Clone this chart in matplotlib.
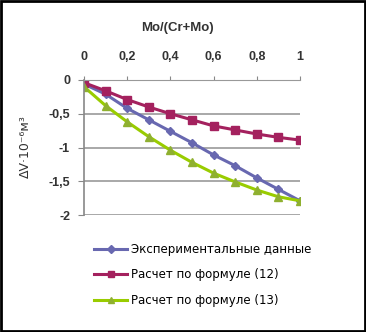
import matplotlib
matplotlib.use("Agg")
import matplotlib.pyplot as plt
from matplotlib.patches import Rectangle

plt.rcParams['font.family'] = ['Liberation Sans', 'DejaVu Sans']

x = [0, 0.1, 0.2, 0.3, 0.4, 0.5, 0.6, 0.7, 0.8, 0.9, 1.0]
exp_data = [-0.06, -0.21, -0.42, -0.59, -0.76, -0.93, -1.11, -1.27, -1.45, -1.62, -1.79]
formula12 = [-0.04, -0.16, -0.29, -0.40, -0.50, -0.59, -0.68, -0.74, -0.80, -0.85, -0.89]
formula13 = [-0.10, -0.38, -0.62, -0.84, -1.04, -1.22, -1.38, -1.51, -1.63, -1.73, -1.79]
labels = ['Экспериментальные данные', 'Расчет по формуле (12)', 'Расчет по формуле (13)']

xticks = [0, 0.2, 0.4, 0.6, 0.8, 1.0]
xtick_labels = ['0', '0,2', '0,4', '0,6', '0,8', '1']
yticks = [0, -0.5, -1, -1.5, -2]
ytick_labels = ['0', '-0,5', '-1', '-1,5', '-2']

W, H = 366, 332
fig = plt.figure(figsize=(W / 100, H / 100), dpi=100)
ax = fig.add_axes([84 / W, 1 - 215 / H, 216 / W, 135 / H])

ax.plot(x, exp_data, color='#6868b0', lw=2.2, marker='D', ms=4.5, label=labels[0])
ax.plot(x, formula12, color='#a4215e', lw=2.2, marker='s', ms=6, label=labels[1])
ax.plot(x, formula13, color='#99cc00', lw=2.2, marker='^', ms=5.5,
        mfc='#8fb030', mec='#8fb030', label=labels[2])

ax.set_xlim(0, 1)
ax.set_ylim(-2, 0)
ax.xaxis.tick_top()
ax.set_xticks(xticks)
ax.set_xticklabels(xtick_labels, fontsize=9, fontweight='bold', color='#333333')
ax.set_yticks(yticks)
ax.set_yticklabels(ytick_labels, fontsize=9, fontweight='bold', color='#333333')
ax.tick_params(axis='x', length=3, pad=9, color='#888888')
ax.tick_params(axis='y', length=4, pad=6, color='#888888')
ax.grid(axis='y', color='#999999', lw=1.2)
ax.set_axisbelow(True)
for s in ['right', 'bottom']:
    ax.spines[s].set_visible(False)
ax.spines['top'].set_color('#999999')
ax.spines['left'].set_color('#888888')
ax.spines['left'].set_linewidth(1.2)

fig.text(177 / W, 1 - 28 / H, 'Mo/(Cr+Mo)', fontsize=9.5, fontweight='bold',
         color='#333333', ha='center', va='center')
fig.text(25 / W, 1 - 147 / H, 'ΔV·10⁻⁶м³', fontsize=9, rotation=90,
         color='#333333', ha='center', va='center', family='DejaVu Sans')

fig.legend(loc='upper left', bbox_to_anchor=(94 / W, 1 - 243 / H), frameon=False,
           prop={'family': 'DejaVu Sans', 'size': 8.5}, handlelength=2.8,
           handletextpad=0.3, labelspacing=1.05, borderaxespad=0, borderpad=0,
           markerscale=0.8)

fig.patches.append(Rectangle((0.003, 0.003), 0.994, 0.994, transform=fig.transFigure,
                             fill=False, ec='black', lw=2))

fig.savefig('out.png', dpi=100)
